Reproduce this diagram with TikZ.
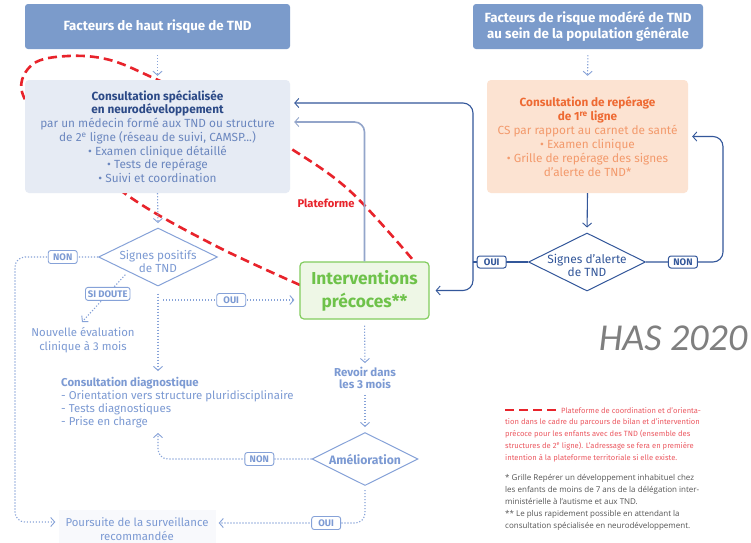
\documentclass[tikz,border=0pt]{standalone}
\usepackage{fontspec}
\setmainfont{Fira Sans}
\newfontfamily\hasfont{Carlito}
\newfontfamily\notefont{Open Sans}
\usetikzlibrary{shapes.geometric,arrows.meta}
\definecolor{topfill}{HTML}{7B9BCB}
\definecolor{csfill}{HTML}{E6EBF4}
\definecolor{cstitle}{HTML}{2C4A87}
\definecolor{csbody}{HTML}{6B87BF}
\definecolor{rpfill}{HTML}{FCE3D2}
\definecolor{rptitle}{HTML}{EE6A33}
\definecolor{rpbody}{HTML}{F39A6C}
\definecolor{gfill}{HTML}{EEF7E6}
\definecolor{gdraw}{HTML}{82CC5E}
\definecolor{gtext}{HTML}{6EC24A}
\definecolor{dotc}{HTML}{86A2D8}
\definecolor{ltext}{HTML}{7C9AD3}
\definecolor{navy}{HTML}{33579A}
\definecolor{lnavy}{HTML}{93A5CA}
\definecolor{redc}{HTML}{E8232B}
\definecolor{notered}{HTML}{EC5A62}
\definecolor{notegray}{HTML}{555555}
\definecolor{hasgray}{HTML}{7F7F7F}
\newcommand{\cst}[1]{\textcolor{cstitle}{\bfseries #1}}
\newcommand{\rpt}[1]{\textcolor{rptitle}{\bfseries #1}}
\begin{document}
\begin{tikzpicture}[x=1pt,y=-1pt,
  topbox/.style={rectangle, rounded corners=3, fill=topfill, text=white, align=center, inner sep=0,
    font=\bfseries\fontsize{13.3}{16}\selectfont},
  csbox/.style={rectangle, rounded corners=4, fill=csfill, text=csbody, align=center, inner sep=0,
    minimum width=265, minimum height=113, font=\fontsize{11.8}{13.7}\selectfont},
  rpbox/.style={rectangle, rounded corners=4, fill=rpfill, text=rpbody, align=center, inner sep=0,
    minimum width=201, minimum height=113, font=\fontsize{11.8}{14}\selectfont},
  ivbox/.style={rectangle, rounded corners=4, fill=gfill, draw=gdraw, line width=1.2pt, text=gtext, align=center,
    inner sep=0, minimum width=129, minimum height=57, font=\bfseries\fontsize{17.3}{23}\selectfont},
  diam/.style={diamond, inner sep=0, line width=1pt, fill=white},
  dline/.style={draw=dotc, line width=1.1pt, dash pattern=on 1.2pt off 1.8pt},
  nline/.style={draw=navy, line width=1.1pt},
  barb/.style={-{Straight Barb[length=4pt,width=9pt,line width=0.9pt]}},
  lbl/.style={draw=dotc, solid, rounded corners=2.5, fill=white, text=ltext, line width=0.9pt,
    font=\bfseries\fontsize{9.5}{10}\selectfont, inner xsep=2.5, inner ysep=0, minimum width=29, minimum height=13},
  nlbl/.style={draw=navy, solid, rounded corners=2.5, fill=white, text=navy, line width=1pt,
    font=\bfseries\fontsize{9.5}{10}\selectfont, inner xsep=2.5, inner ysep=0, minimum width=29, minimum height=12},
  ltxt/.style={text=ltext, align=center, inner sep=1, font=\fontsize{11.4}{14}\selectfont},
  ltxtb/.style={text=ltext, align=center, inner sep=1, font=\bfseries\fontsize{11.5}{12}\selectfont},
  notered/.style={text=notered, align=left, inner sep=0, font=\fontsize{7.6}{12}\selectfont},
  notegray/.style={text=notegray, align=left, inner sep=0, font=\notefont\fontsize{8}{12}\selectfont},
  reddash/.style={draw=redc, line width=2.6pt, dash pattern=on 9pt off 5pt}
]
\useasboundingbox (0,0) rectangle (751,542);
\fill[white] (0,0) rectangle (751,542);

% red platform outline (behind the boxes)
\draw[reddash] plot[smooth, tension=0.6] coordinates {(300,285) (212,244) (127,195) (52,132) (22,92) (33,64) (68,56) (110,60) (158,80) (230,113) (290,148) (350,191) (413,260)};

% boxes
\node[topbox, minimum width=265, minimum height=45] (hr) at (157.5,26.5) {Facteurs de haut risque de TND};
\node[topbox, minimum width=230, minimum height=45] (mr) at (588,26.5) {Facteurs de risque modéré de TND\\au sein de la population générale};
\node[csbox] (cs) at (157.5,136.5) {\cst{Consultation spécialisée}\\\cst{en neurodéveloppement}\\par un médecin formé aux TND ou structure\\de 2\textsuperscript{e} ligne (réseau de suivi, CAMSP...)\\• Examen clinique détaillé\\• Tests de repérage\\• Suivi et coordination};
\node[rpbox] (rp) at (587.5,136.5) {\rpt{Consultation de repérage}\\\rpt{de 1\textsuperscript{re} ligne}\\CS par rapport au carnet de santé\\• Examen clinique\\• Grille de repérage des signes\\d’alerte de TND*};
\node[ivbox] (iv) at (364.5,290.5) {Interventions\\précoces**};
\node[text=redc, font=\bfseries\fontsize{11.2}{12}\selectfont, inner sep=0] (pf) at (326,203) {Plateforme};

% diamonds
\node[diam, draw=dotc, minimum width=119, minimum height=58] (d1) at (158,257) {};
\node[ltxt, font=\fontsize{11.7}{13}\selectfont] (d1t) at (158,261) {Signes positifs\\de TND};
\node[diam, draw=navy, minimum width=117, minimum height=58] (d2) at (587,262) {};
\node[text=navy, align=center, inner sep=0, font=\fontsize{11.9}{13}\selectfont] (d2t) at (587,265) {Signes d’alerte\\de TND};
\node[diam, draw=dotc, minimum width=106, minimum height=53] (d3) at (365,459) {};
\node[ltxtb, font=\bfseries\fontsize{12.2}{13}\selectfont] (d3t) at (365,459) {Amélioration};

% text nodes
\node[ltxt] (ne) at (83,340) {Nouvelle évaluation\\clinique à 3 mois};
\node[ltxt, align=left, anchor=north west, inner sep=0, font=\fontsize{11.4}{13}\selectfont] (dg) at (61,377)
  {\textbf{Consultation diagnostique}\\- Orientation vers structure pluridisciplinaire\\- Tests diagnostiques\\- Prise en charge};
\node[ltxtb] (rv) at (365,378) {Revoir dans\\les 3 mois};
\node[ltxt, fill=csfill!30, minimum width=157, minimum height=38, inner sep=0, font=\fontsize{11.4}{14}\selectfont] (ps) at (137,529) {Poursuite de la surveillance\\recommandée};

% coordinates
\coordinate (y103) at (0,103);
\coordinate (y122) at (0,122);
\coordinate (y223) at (0,223);
\coordinate (j) at (473,262);
\coordinate (k) at (723,262);
\coordinate (c1) at (15,257);
\coordinate (c2) at (15,522);
\coordinate (sd) at (82,322);
\coordinate (cdg) at (158,371);
\coordinate (o1) at (163,300);
\coordinate (c3) at (158,459);
\coordinate (c4) at (158,433);
\coordinate (c5) at (365,523);

% dotted connectors
\draw[dline, barb, shorten <=6, shorten >=4] (hr.south) -- (cs.north);
\draw[dline, barb, shorten <=6, shorten >=4] (mr.south) -- (rp.north);
\draw[dline, barb] (cs.south) -- (d1.north |- y223);
\draw[dline, barb, rounded corners=10, shorten >=3] (d1.west) -- node[lbl, pos=0.425] (l1) {NON} (c1) -- (c2) -- (ps.west |- c2);
\draw[dline, barb, shorten <=4] (d1.south west) -- node[lbl, pos=0.44] (l2) {SI DOUTE} (sd);
\draw[dline, barb, shorten <=7] (d1.south) -- (cdg);
\draw[dline, barb, shorten >=5] (o1) -- node[lbl, pos=0.5] (l3) {OUI} (iv.west |- o1);
\draw[dline, barb, shorten <=6, shorten >=3] (iv.south) -- (rv.north);
\draw[dline, barb, shorten <=5, shorten >=5] (rv.south) -- (d3.north);
\draw[dline, barb, rounded corners=10] (d3.west) -- node[lbl, pos=0.34] (l4) {NON} (c3) -- (c4);
\draw[dline, barb, rounded corners=10, shorten <=4, shorten >=3] (d3.south) -- (c5) -- node[lbl, pos=0.26] (l5) {OUI} (ps.east |- c5);

% navy connectors
\draw[nline, barb, shorten >=5] (rp.south) -- (d2.north);
\draw[nline] (d2.west) -- node[nlbl, pos=0.66] (l6) {OUI} (j);
\draw[nline, barb, rounded corners=10, shorten >=4] (j) |- (cs.east |- y103);
\draw[nline, barb, rounded corners=10, shorten >=6] (j) |- (iv.east);
\draw[nline, barb, rounded corners=10, shorten >=4] (d2.east) -- node[nlbl, pos=0.48] (l7) {NON} (k) |- (rp.east);
\draw[draw=lnavy, line width=1.6pt, barb, rounded corners=10, shorten >=4] (iv.north) |- (cs.east |- y122);

% HAS
\node[text=hasgray, inner sep=0, font=\hasfont\itshape\fontsize{38}{40}\selectfont] (has) at (673,338) {HAS 2020};

% notes
\coordinate (r1) at (505,410);
\coordinate (r2) at (556,410);
\draw[reddash] (r1) -- (r2);
\node[notered, anchor=west] (n1) at (561,410.5) {Plateforme de coordination et d’orienta-};
\node[notered, anchor=north west] (n2) at (505,418) {tion dans le cadre du parcours de bilan et d’intervention\\précoce pour les enfants avec des TND (ensemble des\\structures de 2\textsuperscript{e} ligne). L’adressage se fera en première\\intention à la plateforme territoriale si elle existe.};
\node[notegray, anchor=north west] (n3) at (505,474) {* Grille Repérer un développement inhabituel chez\\les enfants de moins de 7 ans de la délégation inter-\\ministérielle à l’autisme et aux TND.\\** Le plus rapidement possible en attendant la\\consultation spécialisée en neurodéveloppement.};
\end{tikzpicture}
\end{document}
